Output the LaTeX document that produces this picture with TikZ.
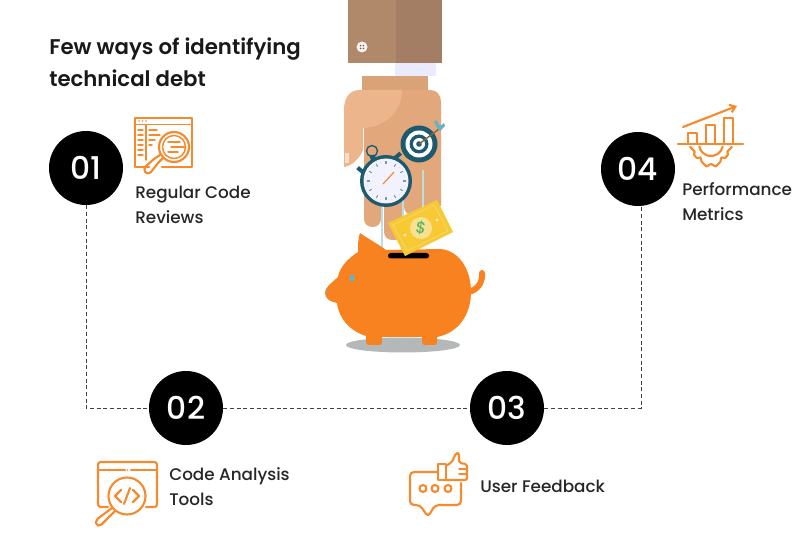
\documentclass[tikz,border=0pt]{standalone}
\usepackage{fontspec}
\setmainfont{Poppins}
\newfontfamily\headfont{Poppins SemiBold}
\newfontfamily\numfont{Poppins Medium}
\usetikzlibrary{arrows.meta}

\definecolor{iconorange}{HTML}{F58A2E}
\definecolor{pigorange}{HTML}{F98220}
\definecolor{tealdark}{HTML}{1D5A6E}
\definecolor{tealmid}{HTML}{62B4C8}
\definecolor{tealpale}{HTML}{BBDDE3}
\definecolor{skin}{HTML}{E2A87C}
\definecolor{skinlight}{HTML}{ECB58B}
\definecolor{skinwrist}{HTML}{D9A277}
\definecolor{sleeveleft}{HTML}{B0896B}
\definecolor{sleeveright}{HTML}{A47D65}
\definecolor{billyellow}{HTML}{F6C935}
\definecolor{dollargreen}{HTML}{58B868}
\definecolor{shadowgrey}{HTML}{B4B8B8}

\tikzset{
    numcircle/.style={circle, fill=black, text=white, minimum size=55.5pt, inner sep=0pt, font=\numfont\fontsize{23.5}{24}\selectfont},
    steplabel/.style={anchor=west, align=left, inner sep=0pt, text=black!85, font=\numfont\fontsize{12.6}{18.7}\selectfont},
    titletext/.style={anchor=west, align=left, inner sep=0pt, text=black!90, font=\headfont\fontsize{15.95}{24}\selectfont},
    dashline/.style={densely dashed, black!75, line width=0.75pt},
    iconline/.style={iconorange, line width=1.6pt, line cap=round, line join=round},
    thinline/.style={iconorange, line width=1.1pt, line cap=round},
}

\begin{document}
\begin{tikzpicture}[x=0.75pt, y=-0.75pt]
    \useasboundingbox (0, 0) rectangle (800, 552);

    % connectors
    \node[numcircle] (num1) at (86, 168) {01};
    \node[numcircle] (num2) at (186, 408) {02};
    \node[numcircle] (num3) at (507, 408) {03};
    \node[numcircle] (num4) at (638, 169) {04};
    \coordinate (drop4) at (641, 205);
    \draw[dashline] (num1.south) |- (num2.west);
    \draw[dashline] (num2.east) -- (num3.west);
    \draw[dashline] (num3.east) -| (drop4);

    % texts
    \node[titletext] (title) at (49, 62) {Few ways of identifying\\technical debt};
    \node[steplabel] (label1) at (135, 204.5) {Regular Code\\Reviews};
    \node[steplabel] (label2) at (169, 486.5) {Code Analysis\\Tools};
    \node[steplabel] (label3) at (480, 486) {User Feedback};
    \node[steplabel] (label4) at (682, 201.5) {Performance\\Metrics};

    % sleeve and hand
    \fill[sleeveleft] (348, 0) rectangle (396, 63);
    \fill[sleeveright] (396, 0) rectangle (442, 63);
    \fill[white!90!sleeveleft] (362, 47) circle (5.5);
    \foreach \a in {45, 135, 225, 315}
        \fill[sleeveright!70!black] (362, 47) ++(\a:2) circle (0.9);
    \fill[white!92!blue] (395, 63) rectangle (436, 76);
    \fill[skinwrist] (362, 76) rectangle (428, 91);
    \fill[skin] (364, 90) -- (430, 90) .. controls (437, 90) and (441, 95) .. (441, 102)
        -- (441, 206) -- (364, 206) -- cycle;
    \foreach \fx/\fw/\fy in {364/17/227, 384/19/240, 404/18/215, 424/17/210}
        \fill[skin, rounded corners=6pt] (\fx, 190) rectangle (\fx+\fw, \fy);
    \fill[skinlight] (344, 110) .. controls (344, 97) and (350, 90) .. (360, 90) -- (402, 90)
        .. controls (402, 112) and (385, 127) .. (363, 128) -- (363, 150)
        .. controls (360, 158) and (352, 166) .. (344, 167) -- cycle;
    \fill[white!55!skinlight] (345, 153) rectangle (349, 163);
    \foreach \lx/\ly/\lz in {382/207/247, 403/200/218, 423/170/206}
        \draw[tealpale, line width=1.3pt] (\lx, \ly) -- (\lx, \lz);

    % target
    \fill[tealdark] (419, 144) circle (18.5);
    \fill[white] (419, 144) circle (13.5);
    \fill[tealdark] (419, 144) circle (9.5);
    \fill[white] (419, 144) circle (6);
    \fill[tealdark] (419, 144) circle (2.8);
    \draw[skinwrist!60!black, line width=1pt] (419, 144) -- (439, 129);
    \fill[tealmid] (437, 128) -- (434, 122) -- (436, 120) -- (440, 126) -- (444, 123) -- (445, 126) -- (440, 131) -- cycle;

    % stopwatch
    \draw[tealdark, line width=1pt] (372, 151) circle (5.5);
    \fill[tealdark] (369, 155) -- (375, 155) -- (376, 160) -- (371, 160) -- cycle;
    \fill[tealdark, rotate around={-40:(360, 171)}] (356, 168) rectangle (364, 172);
    \fill[tealdark, rotate around={40:(397, 155)}] (393, 154) rectangle (401, 158);
    \fill[tealdark] (386, 181) circle (26);
    \fill[white!95!blue] (386, 181) circle (22.5);
    \foreach \a in {0, 30, ..., 330}
        \draw[tealdark!60, line width=0.8pt] (386, 181) ++(\a:16.5) -- ++(\a:3);
    \foreach \a in {15, 45, ..., 345}
        \fill[tealpale] (386, 181) ++(\a:19) circle (0.5);
    \draw[iconorange, line width=0.9pt] (383, 184) -- (394, 172);

    % piggy bank
    \fill[shadowgrey] (403, 345) ellipse (57 and 7.5);
    \draw[pigorange, line width=4.5pt, line cap=round] (469, 292) .. controls (476, 290) and (483, 284) .. (482, 273);
    \fill[pigorange] (360, 233) .. controls (367, 238) and (378, 244) .. (386, 250)
        -- (440, 249) .. controls (458, 250) and (471, 268) .. (471, 292)
        .. controls (471, 315) and (458, 333) .. (437, 337)
        -- (437, 342) .. controls (437, 344) and (436, 345) .. (434, 345) -- (425, 345)
        .. controls (423, 345) and (422, 344) .. (422, 342) -- (422, 337) -- (382, 337)
        -- (382, 342) .. controls (382, 344) and (381, 345) .. (379, 345) -- (369, 345)
        .. controls (367, 345) and (366, 344) .. (366, 342) -- (366, 336)
        .. controls (350, 331) and (339, 319) .. (337, 303)
        .. controls (331, 302) and (325, 299) .. (325, 293)
        .. controls (325, 288) and (329, 285) .. (338, 277)
        .. controls (340, 266) and (349, 258) .. (358, 252)
        .. controls (358, 245) and (358, 238) .. (360, 233) -- cycle;
    \fill[pigorange!60!tealmid] (327, 291) ellipse (1 and 2.5);
    \fill[tealmid] (352, 278) ellipse (2.2 and 4);
    \fill[black, rounded corners=2pt] (388, 253) rectangle (429, 258.5);

    % bill
    \fill[billyellow] (437, 200) -- (453, 232) -- (405, 256) -- (388, 223) -- cycle;
    \draw[white!25!billyellow, line width=0.6pt] (434, 205) -- (448, 231) -- (407, 251) -- (393, 225) -- cycle;
    \fill[white!45!billyellow] (421, 228) circle (11);
    \fill[white!60!billyellow] (437, 220) circle (1.6);
    \fill[white!60!billyellow] (405, 235) circle (1.6);
    \node[text=dollargreen, inner sep=0pt, rotate=-10, font=\numfont\fontsize{12}{12}\selectfont] (dollar) at (421, 228) {\$};

    % icon regular code reviews
    \draw[iconline] (135, 140) -- (135, 118) -- (192, 118) -- (192, 167) -- (162, 167);
    \draw[iconline] (135, 140) -- (135, 167) -- (149, 167);
    \draw[thinline] (135, 124.5) -- (192, 124.5);
    \foreach \i in {0, 1, 2}
        \fill[iconorange] (139+3.5*\i, 121) circle (0.8);
    \draw[thinline] (146, 124.5) -- (146, 160);
    \foreach \ly in {130, 135, 140, 145, 150, 155}
        \draw[thinline] (138, \ly) -- (143, \ly);
    \foreach \ly/\lx in {130/157, 135/160, 140/155, 145/152}
        \draw[thinline] (149, \ly) -- (\lx, \ly);
    \fill[white] (174, 147) circle (15);
    \draw[iconline] (174, 147) circle (15);
    \draw[thinline] (174, 147) circle (11.5);
    \foreach \ly/\la/\lb in {142/168/180, 147/171/185, 152/168/178}
        \draw[thinline] (\la, \ly) -- (\lb, \ly);
    \draw[iconline] (163, 158) -- (158, 163) -- (151, 172) .. controls (146, 176) and (142, 170) .. (146, 166) -- (154, 159) -- (160, 155);

    % icon code analysis tools
    \draw[iconline, rounded corners=2pt] (108, 507) -- (98, 507) -- (98, 462) -- (157, 462) -- (157, 507) -- (146, 507);
    \draw[iconline] (98, 470) -- (125, 470);
    \draw[iconline] (131, 470) -- (157, 470);
    \fill[iconorange] (127.5, 470) circle (0.9);
    \fill[white] (127, 496) circle (18.5);
    \draw[iconline] (127, 496) circle (18.5);
    \draw[iconline] (121, 490) -- (115, 496) -- (121, 502);
    \draw[iconline] (133, 490) -- (139, 496) -- (133, 502);
    \draw[iconline] (130, 488) -- (124, 504);
    \draw[iconline, rounded corners=1.5pt] (112, 508) -- (96, 520) -- (96, 525) -- (100, 526) -- (115, 511);

    % icon user feedback
    \draw[iconline, rounded corners=3pt] (438, 472) -- (410, 472) -- (410, 505) -- (420, 505) -- (428, 517) -- (435, 505) -- (461, 505) -- (461, 483);
    \foreach \dx in {423, 435, 448}
        \draw[iconline] (\dx, 488.5) circle (3.5);
    \draw[iconline] (438, 464) rectangle (446, 480);
    \draw[iconline, rounded corners=1.5pt] (446, 466) -- (452, 462) -- (456, 453) -- (459, 453) -- (459, 463) -- (467, 464) -- (467, 480) -- (446, 480);
    \draw[thinline] (459, 469) -- (467, 469);
    \draw[thinline] (459, 474) -- (467, 474);

    % icon performance metrics
    \draw[iconline, -{Straight Barb[length=4pt, width=6pt]}] (683, 127) -- (737, 106);
    \draw[iconline] (678, 144) -- (743, 144);
    \foreach \bx/\by in {688/133, 706/125, 724/118}
        \draw[iconline] (\bx, 144) -- (\bx, \by) -- (\bx+9, \by) -- (\bx+9, 144);
    \begin{scope}[shift={(711, 144)}]
        \draw[iconline] (12:12) arc (12:168:12);
        \draw[iconline] (8:21) -- (25:18) -- (32:20) -- (45:20) -- (52:17) -- (62:20) -- (78:23)
            -- (90:20) -- (102:23) -- (118:20) -- (128:17) -- (135:20) -- (148:20) -- (155:18) -- (172:21);
    \end{scope}
\end{tikzpicture}
\end{document}
